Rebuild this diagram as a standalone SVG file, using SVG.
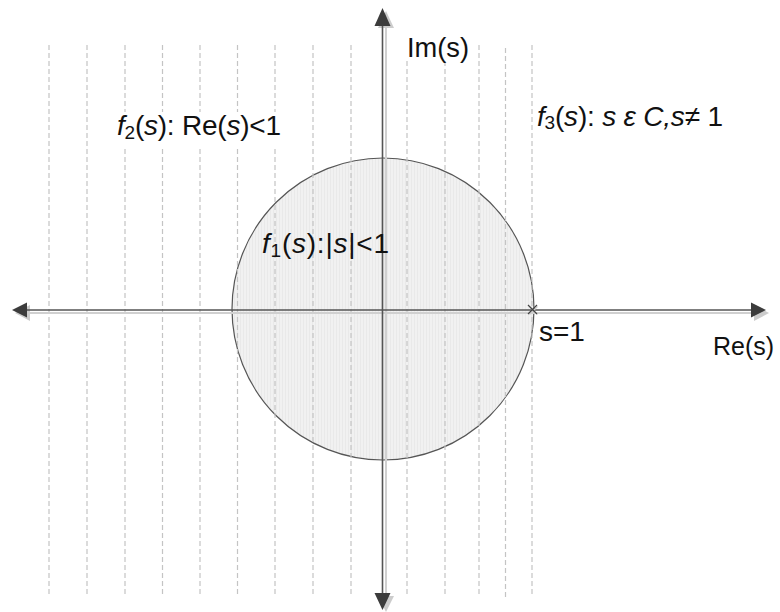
<svg xmlns="http://www.w3.org/2000/svg" width="780" height="612" viewBox="0 0 780 612">
<style>
.grid{stroke:#c4c4c4;stroke-width:1.2;stroke-dasharray:5 3;fill:none}
.ax{stroke:#555;stroke-width:1.6;fill:none}
.axs{stroke:#d0d0d0;stroke-width:2;fill:none}
.ah{fill:#3c3c3c}
.ahs{fill:#cccccc}
.t{font-family:"Liberation Sans",Arial,sans-serif;font-size:28px;fill:#111}
.i{font-style:italic}
.box{fill:#fff}
</style>
<defs>
<pattern id="hatch" width="3" height="4" patternUnits="userSpaceOnUse">
<rect width="3" height="4" fill="#f1f1f1"/>
<rect width="1" height="4" fill="#e9e9e9"/>
</pattern>
</defs>
<rect width="780" height="612" fill="#fff"/>
<g id="region-circle">
<circle cx="383" cy="309" r="151" fill="url(#hatch)" stroke="#555" stroke-width="1.2"/>
</g>
<g id="grid">
<line class="grid" x1="49" y1="45" x2="49" y2="595"/>
<line class="grid" x1="87" y1="45" x2="87" y2="595"/>
<line class="grid" x1="125" y1="45" x2="125" y2="595"/>
<line class="grid" x1="162.5" y1="45" x2="162.5" y2="595"/>
<line class="grid" x1="200" y1="45" x2="200" y2="595"/>
<line class="grid" x1="237.5" y1="45" x2="237.5" y2="595"/>
<line class="grid" x1="275" y1="45" x2="275" y2="595"/>
<line class="grid" x1="313" y1="45" x2="313" y2="595"/>
<line class="grid" x1="351" y1="45" x2="351" y2="595"/>
<line class="grid" x1="407" y1="45" x2="407" y2="595"/>
<line class="grid" x1="445" y1="45" x2="445" y2="595"/>
<line class="grid" x1="479" y1="45" x2="479" y2="595"/>
<line class="grid" x1="505.5" y1="48" x2="505.5" y2="599"/>
<line class="grid" x1="532" y1="45" x2="532" y2="595"/>
</g>
<g id="connectors">
<line class="axs" x1="28" y1="313" x2="754" y2="313"/>
<line class="axs" x1="386" y1="26" x2="386" y2="596"/>
<polygon class="ahs" points="15,313 30,305 30,321"/>
<polygon class="ahs" points="769,313 754,305 754,321"/>
<polygon class="ahs" points="386,11 378,28 394,28"/>
<polygon class="ahs" points="386,612 378,596 394,596"/>
<line class="ax" x1="26" y1="310" x2="752" y2="310"/>
<line class="ax" x1="382.5" y1="26" x2="382.5" y2="594"/>
<polygon class="ah" points="12,310 27,302.5 27,317.5"/>
<polygon class="ah" points="766,310 751,302.5 751,317.5"/>
<polygon class="ah" points="382.5,8 374.5,26 390.5,26"/>
<polygon class="ah" points="382.5,610 374.5,593 390.5,593"/>
</g>
<g id="point-s1">
<path d="M529.5 306.5 L537.5 314.5 M537.5 306.5 L529.5 314.5" stroke="#ccc" stroke-width="1.2"/>
<path d="M528 305 L537 314 M537 305 L528 314" stroke="#444" stroke-width="1.2"/>
<text class="t" x="539" y="341">s=1</text>
</g>
<g id="label-im">
<rect class="box" x="400" y="33" width="76" height="28"/>
<text class="t" x="407" y="57" textLength="62" lengthAdjust="spacingAndGlyphs">Im(s)</text>
</g>
<g id="label-re">
<text class="t" x="713" y="355" font-size="25" style="font-size:25px">Re(s)</text>
</g>
<g id="label-f2">
<rect class="box" x="114" y="112" width="172" height="35"/>
<text class="t" x="117" y="135" textLength="164" lengthAdjust="spacing"><tspan class="i">f</tspan><tspan font-size="19" dy="4">2</tspan><tspan dy="-4">(</tspan><tspan class="i">s</tspan>): Re(<tspan class="i">s</tspan>)&lt;1</text>
</g>
<g id="label-f3">
<text class="t" x="537" y="126" textLength="186" lengthAdjust="spacing"><tspan class="i">f</tspan><tspan font-size="19" dy="3">3</tspan><tspan dy="-3">(</tspan><tspan class="i">s</tspan>): <tspan class="i">s ε C,s≠</tspan> 1</text>
</g>
<g id="label-f1">
<text class="t" x="262" y="253" textLength="127" lengthAdjust="spacing"><tspan class="i">f</tspan><tspan font-size="19" dy="4">1</tspan><tspan dy="-4">(</tspan><tspan class="i">s</tspan>):|<tspan class="i">s</tspan>|&lt;1</text>
</g>
</svg>
